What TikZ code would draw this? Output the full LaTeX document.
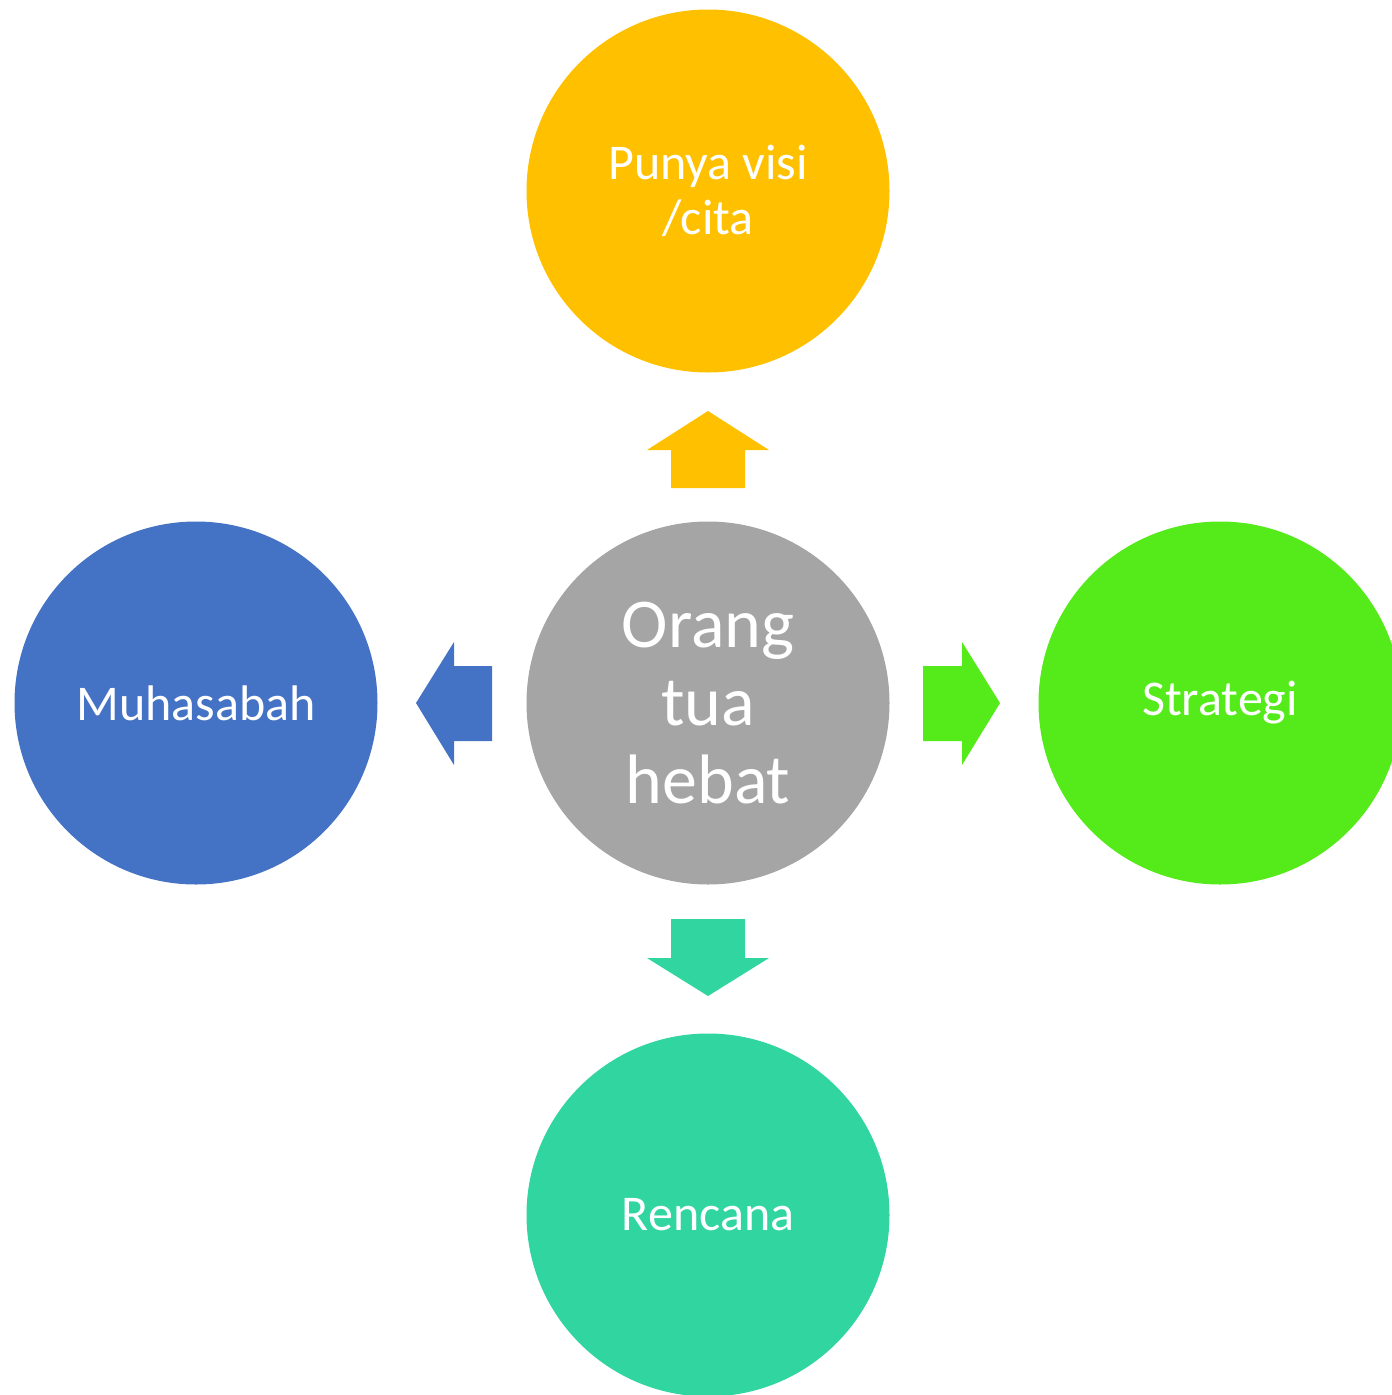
\documentclass[tikz,border=0pt]{standalone}
\usepackage{fontspec}
\setmainfont{Carlito}
\begin{document}
\begin{tikzpicture}[x=1pt,y=-1pt,
  circ/.style={circle,minimum size=363pt,inner sep=0pt},
  lbl/.style={text=white,align=center,inner sep=0pt,font=\fontsize{50}{55}\selectfont},
  big/.style={text=white,align=center,inner sep=0pt,font=\fontsize{70}{78}\selectfont}]
\useasboundingbox (0,0) rectangle (1392,1395);
\definecolor{cTop}{HTML}{FFC000}
\definecolor{cMid}{HTML}{A5A5A5}
\definecolor{cLeft}{HTML}{4472C4}
\definecolor{cRight}{HTML}{55EA1A}
\definecolor{cBot}{HTML}{30D5A0}
\node[circ,fill=cMid] (mid) at (708,703) {};
\node[big] (midtxt) at (mid.center) {Orang\\tua\\hebat};
\node[circ,fill=cTop] (top) at (708,191) {};
\node[lbl] (toptxt) at (top.center) {Punya visi\\/cita};
\node[circ,fill=cBot] (bot) at (708,1215) {};
\node[lbl] (bottxt) at (bot.center) {Rencana};
\node[circ,fill=cLeft] (left) at (196,703) {};
\node[lbl] (lefttxt) at (left.center) {Muhasabah};
\node[circ,fill=cRight] (right) at (1220,703) {};
\node[lbl] (righttxt) at (right.center) {Strategi};
% arrows
\fill[cTop] (671,488) -- (671,450) -- (647,450) -- (708,411) -- (769,450) -- (745,450) -- (745,488) -- cycle;
\fill[cBot] (671,919) -- (671,958) -- (647,958) -- (708,996) -- (769,958) -- (745,958) -- (745,919) -- cycle;
\fill[cLeft] (492,666) -- (454,666) -- (454,642) -- (416,703) -- (454,765) -- (454,741) -- (492,741) -- cycle;
\fill[cRight] (923,666) -- (962,666) -- (962,642) -- (1000,703) -- (962,765) -- (962,741) -- (923,741) -- cycle;
\end{tikzpicture}
\end{document}
